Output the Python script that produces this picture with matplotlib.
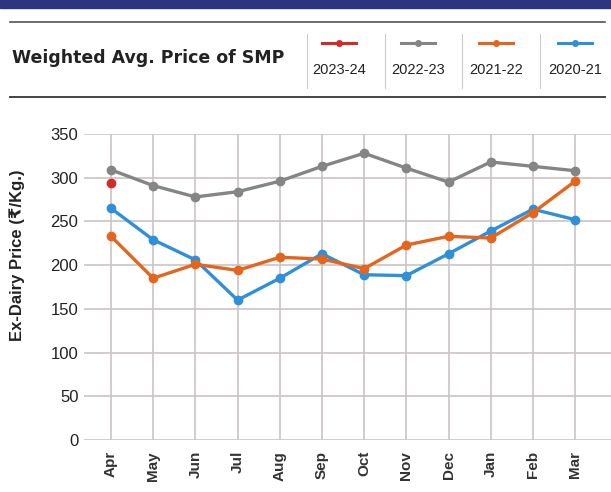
import numpy as np
import matplotlib.pyplot as plt
from matplotlib.lines import Line2D
from matplotlib.patches import Rectangle

months = ["Apr", "May", "Jun", "Jul", "Aug", "Sep", "Oct", "Nov", "Dec", "Jan", "Feb", "Mar"]
fy_2023_24 = [294]
fy_2022_23 = [309, 291, 278, 284, 296, 313, 328, 311, 295, 318, 313, 308]
fy_2021_22 = [233, 185, 201, 194, 209, 207, 196, 223, 233, 231, 260, 296]
fy_2020_21 = [265, 229, 206, 160, 185, 213, 189, 188, 213, 239, 264, 252]

series = [("2023-24", fy_2023_24, "#d42a2a"),
          ("2022-23", fy_2022_23, "#858585"),
          ("2021-22", fy_2021_22, "#e4661e"),
          ("2020-21", fy_2020_21, "#2f8fd8")]

plt.rcParams['font.family'] = ['Liberation Sans', 'DejaVu Sans']

fig = plt.figure(figsize=(6.11, 4.92), dpi=100)

# top banner and header
fig.patches.append(Rectangle((0, 1 - 8 / 492), 1, 8 / 492, transform=fig.transFigure,
                             color="#2b3580", zorder=0))
fig.add_artist(Line2D([10 / 611, 605 / 611], [1 - 22 / 492] * 2, color="#555555", lw=1.2))
fig.add_artist(Line2D([10 / 611, 605 / 611], [1 - 97 / 492] * 2, color="#444444", lw=1.4))
fig.text(12 / 611, 1 - 58 / 492, "Weighted Avg. Price of SMP", fontsize=12.5,
         fontweight="bold", family=["DejaVu Sans"], va="center", color="#222222")

centers = [339, 418, 496, 575]
for xc, (name, vals, col) in zip(centers, series):
    fig.add_artist(Line2D([(xc - 17) / 611, (xc + 17) / 611], [1 - 43 / 492] * 2,
                          color=col, lw=2.2))
    fig.add_artist(Line2D([xc / 611], [1 - 43 / 492], color=col, marker="o", ms=4))
    fig.text(xc / 611, 1 - 70 / 492, name, fontsize=10.5, ha="center", va="center",
             color="#222222")
for xs in [307, 385, 462, 540]:
    fig.add_artist(Line2D([xs / 611] * 2, [1 - 88 / 492, 1 - 34 / 492], color="#cccccc", lw=0.8))

ax = fig.add_axes([84 / 611, 1 - 440 / 492, 1 - 84 / 611, (440 - 134) / 492])

x = np.arange(len(months))
for name, vals, col in series[::-1]:
    ax.plot(x[:len(vals)], vals, color=col, lw=2.4, marker="o", ms=6, zorder=3)

ax.set_xlim(-0.64, 11.85)
ax.set_ylim(0, 350)
ax.set_yticks(range(0, 351, 50))
ax.set_xticks(x)
ax.set_xticklabels(months, rotation=90, fontsize=11, fontweight="bold", color="#333333")
ax.tick_params(axis="y", labelsize=12, colors="#222222", length=0, pad=4)
ax.tick_params(axis="x", length=0, pad=8)
ax.grid(True, color="#cbc4c4", lw=1.2)
for s in ax.spines.values():
    s.set_visible(False)
ax.set_ylabel("Ex-Dairy Price (₹/Kg.)", fontsize=12, fontweight="bold", color="#222222",
              va="center")
ax.yaxis.set_label_coords(-0.127, 0.605)

fig.savefig("out.png", dpi=100)
